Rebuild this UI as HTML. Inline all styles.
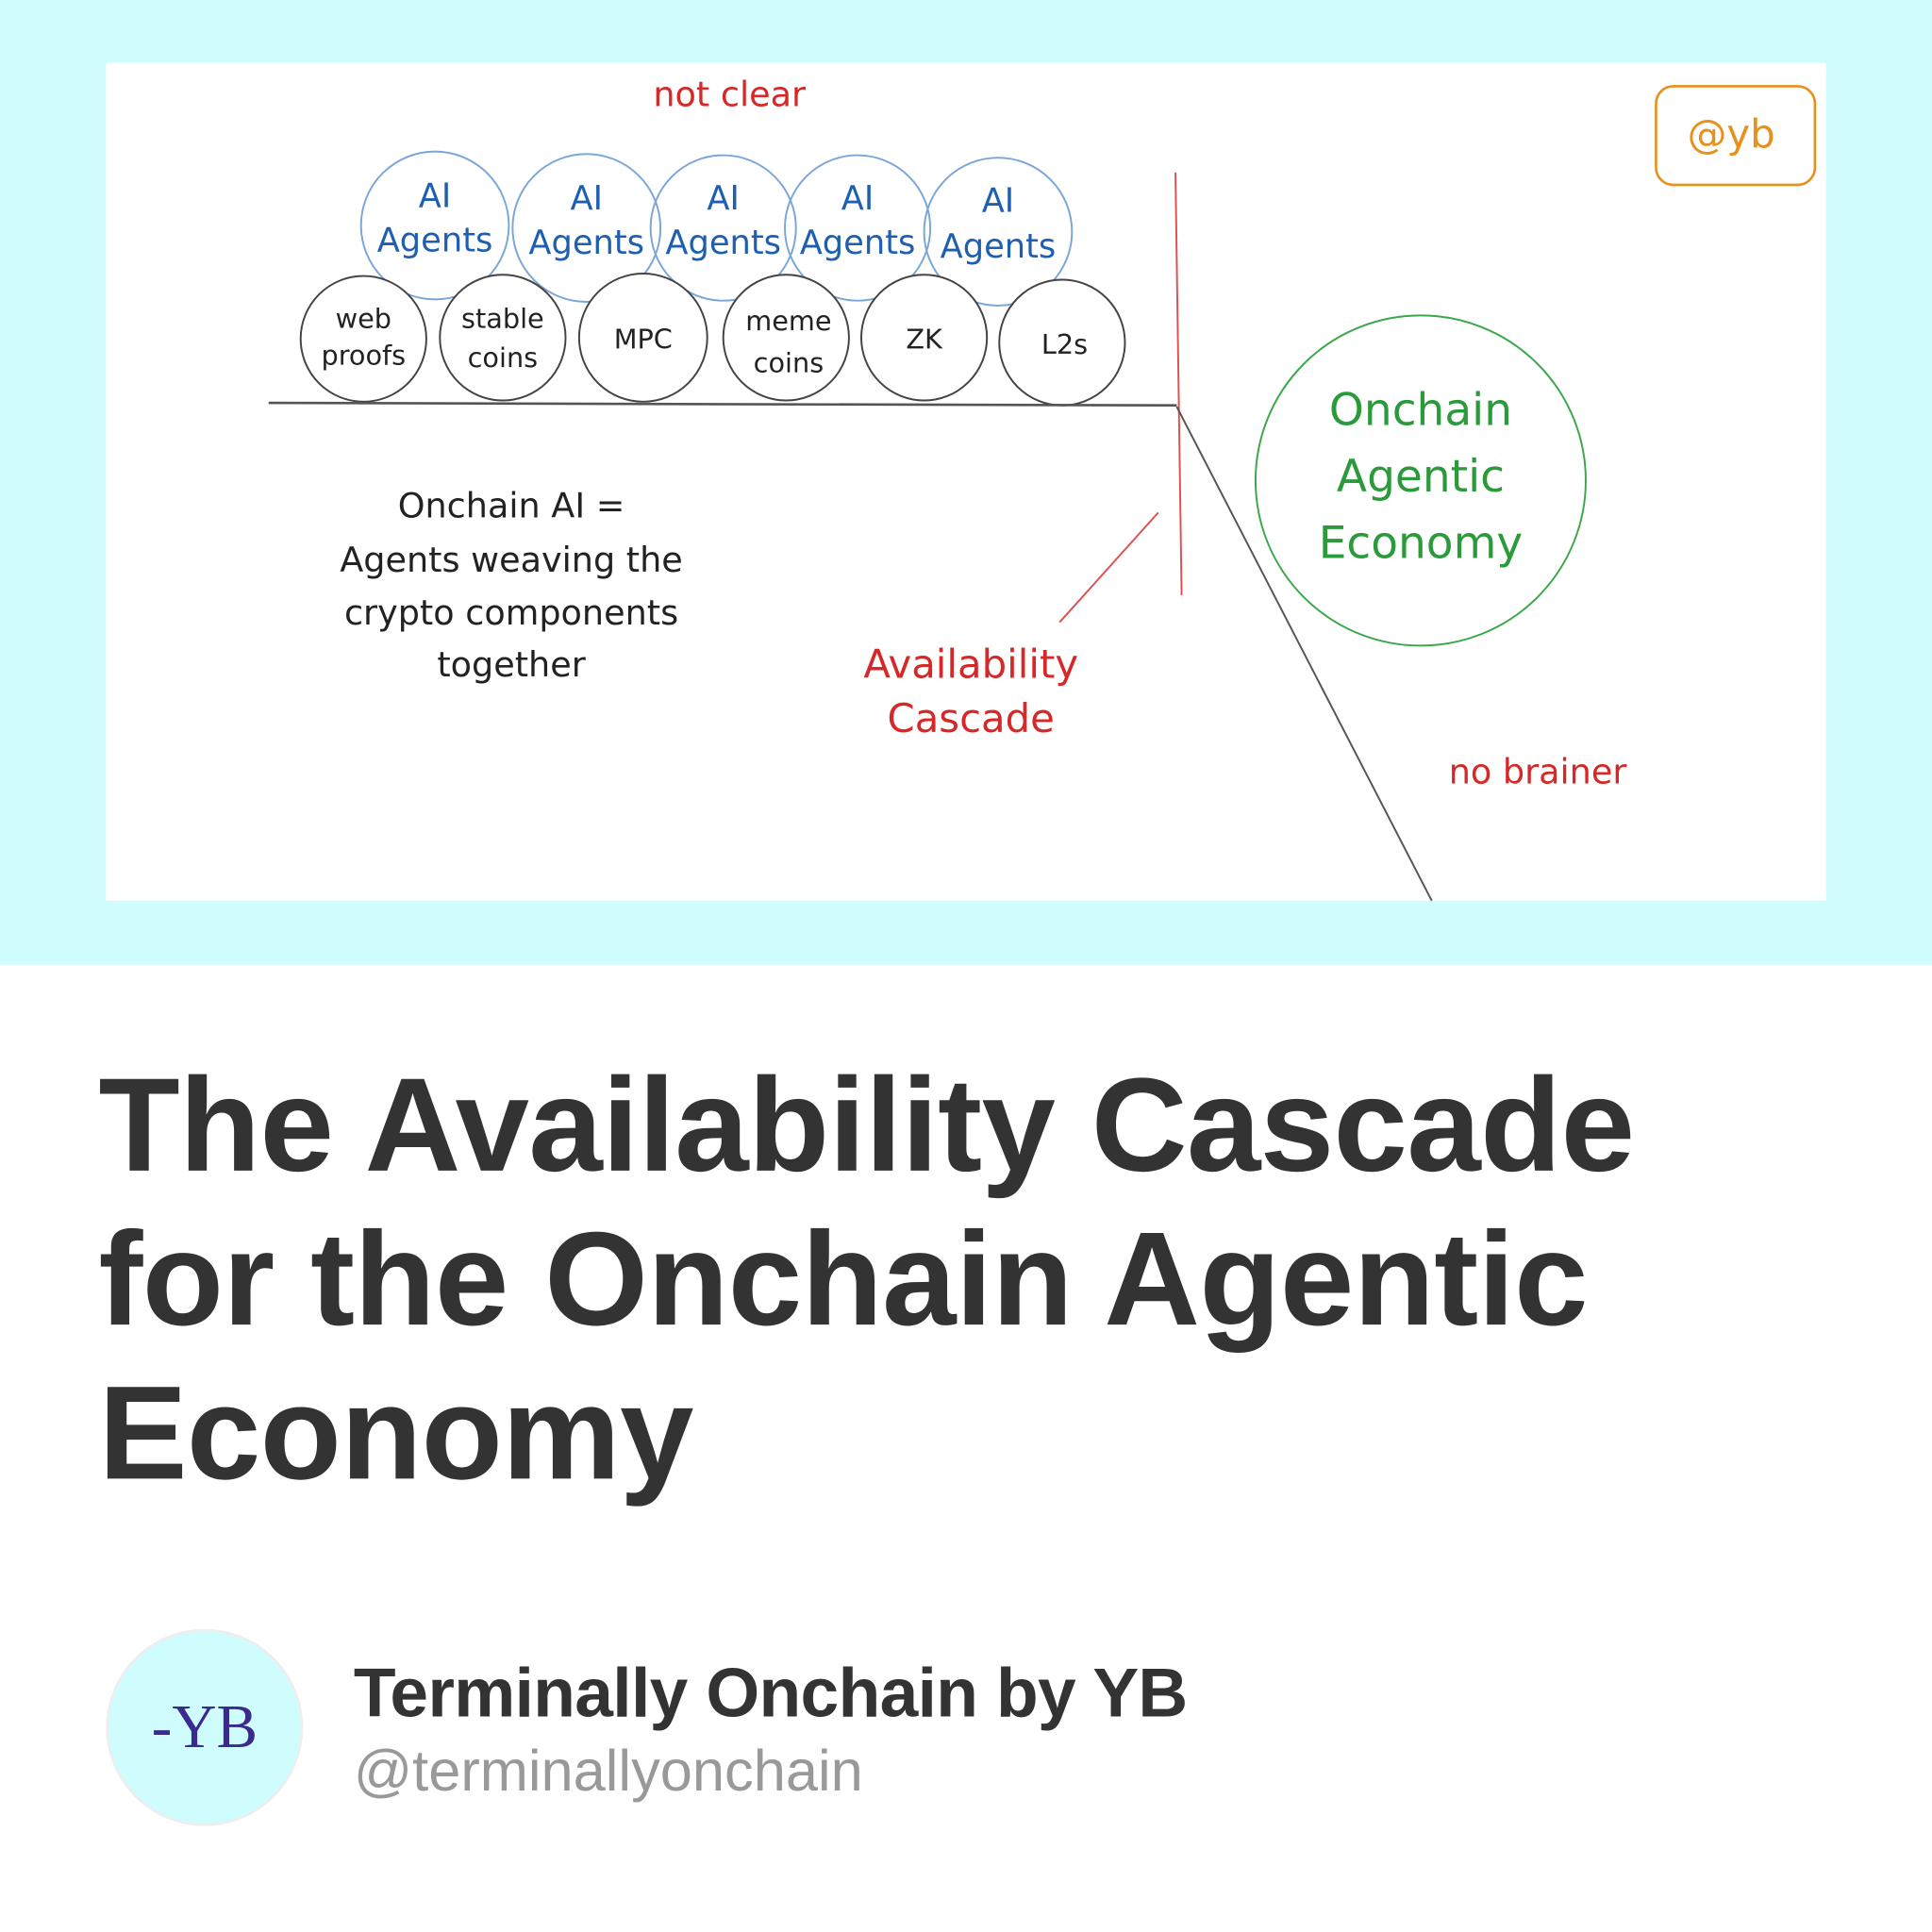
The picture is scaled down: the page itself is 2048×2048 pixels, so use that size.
<!DOCTYPE html>
<html><head><meta charset="utf-8"><style>
html,body{margin:0;padding:0;background:#fff;}
svg{display:block;}
</style></head><body>
<svg width="2048" height="2048" viewBox="0 0 1568 1568" xmlns="http://www.w3.org/2000/svg">
<rect x="0" y="0" width="1568" height="783" fill="#cffcfc"/>
<rect x="86" y="51" width="1396" height="680" fill="#fff"/>
<g font-family="DejaVu Sans, sans-serif">
<text x="592" y="86" font-size="28" fill="#d62828" text-anchor="middle">not clear</text>
<rect x="1344" y="70" width="129" height="80" rx="14" fill="none" stroke="#e8901c" stroke-width="2"/>
<text x="1405" y="120" font-size="32" fill="#e8901c" text-anchor="middle">@yb</text>
<g fill="none" stroke="#7aa6d8" stroke-width="1.5">
<circle cx="353" cy="183" r="60"/><circle cx="476" cy="185" r="60"/><circle cx="587" cy="185" r="59"/><circle cx="696" cy="185" r="59"/><circle cx="810" cy="188" r="60"/>
</g>
<g fill="#1f5fb0" font-size="27" text-anchor="middle">
<text x="353" y="168">AI</text><text x="353" y="204">Agents</text>
<text x="476" y="170">AI</text><text x="476" y="206">Agents</text>
<text x="587" y="170">AI</text><text x="587" y="206">Agents</text>
<text x="696" y="170">AI</text><text x="696" y="206">Agents</text>
<text x="810" y="172">AI</text><text x="810" y="209">Agents</text>
</g>
<g fill="#fff" stroke="#444" stroke-width="1.5">
<circle cx="295" cy="275" r="51"/><circle cx="408" cy="274" r="51"/><circle cx="522" cy="274" r="52"/><circle cx="638" cy="274" r="51"/><circle cx="750" cy="274" r="51"/><circle cx="862" cy="278" r="51"/>
</g>
<g fill="#222" font-size="22" text-anchor="middle">
<text x="295" y="266">web</text><text x="295" y="296">proofs</text>
<text x="408" y="266">stable</text><text x="408" y="298">coins</text>
<text x="522" y="283">MPC</text>
<text x="640" y="268">meme</text><text x="640" y="302">coins</text>
<text x="750" y="283">ZK</text>
<text x="864" y="287">L2s</text>
</g>
<line x1="218" y1="327" x2="955" y2="329" stroke="#555" stroke-width="2"/>
<line x1="954" y1="140" x2="959" y2="483" stroke="#e05050" stroke-width="1.5"/>
<line x1="955" y1="330" x2="1162" y2="731" stroke="#555" stroke-width="1.5"/>
<line x1="940" y1="416" x2="860" y2="505" stroke="#e05050" stroke-width="1.5"/>
<g fill="#222" font-size="28" text-anchor="middle">
<text x="415" y="420">Onchain AI =</text>
<text x="415" y="464">Agents weaving the</text>
<text x="415" y="507">crypto components</text>
<text x="415" y="549">together</text>
</g>
<g fill="#d62828" font-size="32" text-anchor="middle">
<text x="788" y="550">Availability</text>
<text x="788" y="594">Cascade</text>
<text x="1248" y="636" font-size="28">no brainer</text>
</g>
<circle cx="1153" cy="390" r="134" fill="none" stroke="#3aa84a" stroke-width="1.5"/>
<g fill="#2a9a3a" font-size="36" text-anchor="middle">
<text x="1153" y="345">Onchain</text>
<text x="1153" y="399">Agentic</text>
<text x="1153" y="453">Economy</text>
</g>
</g>
<g font-family="Liberation Sans, sans-serif" font-weight="bold" fill="#333" font-size="108" letter-spacing="-0.5">
<text x="80" y="950">The Availability Cascade</text>
<text x="80" y="1075">for the Onchain Agentic</text>
<text x="80" y="1200">Economy</text>
</g>
<circle cx="166" cy="1402" r="79" fill="#cffcfc" stroke="#eee" stroke-width="2"/>
<text x="166" y="1418" font-family="Liberation Serif, serif" font-size="50" fill="#3a2a8f" text-anchor="middle">-YB</text>
<text x="287" y="1393" font-family="Liberation Sans, sans-serif" font-weight="bold" font-size="56" fill="#333" letter-spacing="-0.5">Terminally Onchain by YB</text>
<text x="287" y="1453" font-family="Liberation Sans, sans-serif" font-size="47" fill="#999">@terminallyonchain</text>
</svg>
</body></html>
